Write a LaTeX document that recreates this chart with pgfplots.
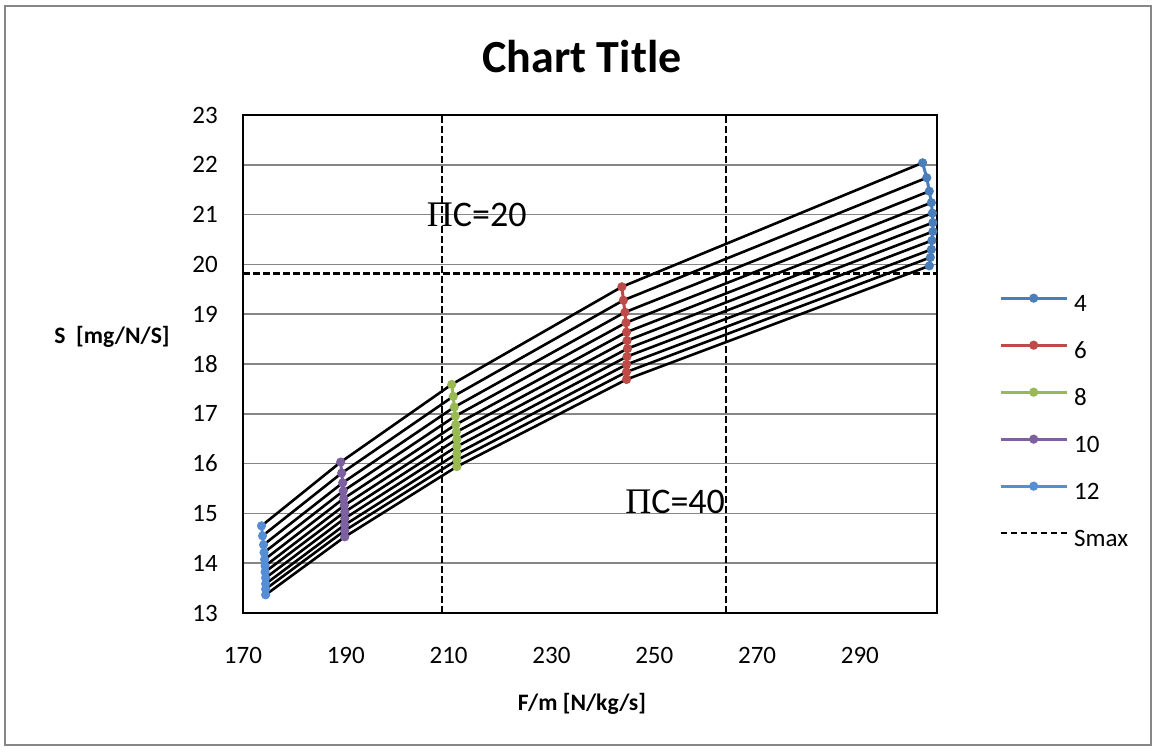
\documentclass[border=0pt]{standalone}
\usepackage{pgfplots}
\pgfplotsset{compat=1.18}
\usepackage{fontspec}
\setmainfont{Carlito}
\newfontfamily\serifgr{Liberation Serif}
\definecolor{c4}{RGB}{74,126,187}
\definecolor{c6}{RGB}{190,75,72}
\definecolor{c8}{RGB}{152,185,84}
\definecolor{c10}{RGB}{125,96,160}
\definecolor{c12}{RGB}{85,142,213}
\definecolor{gridgray}{RGB}{134,134,134}
\definecolor{framegray}{RGB}{135,135,135}
\begin{document}
\begin{tikzpicture}
\path[use as bounding box] (0,0) rectangle (578pt,375.5pt);
\draw[framegray, line width=1pt] (2.5pt,3pt) rectangle (575.5pt,372.5pt);
\node[font=\fontsize{23}{27}\selectfont\bfseries] at (291pt,347pt) {Chart Title};
\node[font=\fontsize{11.8}{14}\selectfont\bfseries] at (56pt,207pt) {S\ \ [mg/N/S]};
\node[font=\fontsize{11.8}{14}\selectfont\bfseries] at (291pt,23.5pt) {F/m [N/kg/s]};
\begin{axis}[
  at={(121.5pt,69pt)}, anchor=south west,
  scale only axis, width=347pt, height=249pt,
  xmin=170, xmax=305, ymin=13, ymax=23,
  xtick={170,190,...,290}, ytick={13,14,...,23},
  major tick length=0pt,
  ymajorgrids, grid style={gridgray, line width=0.8pt},
  axis line style={black, line width=1.2pt},
  /pgf/number format/assume math mode=true,
  tick label style={font=\fontsize{12.5}{15}\selectfont},
  xticklabel style={anchor=center, yshift=-21pt},
  yticklabel style={anchor=center, xshift=-19pt},
  legend style={at={(1.089,0.383)}, anchor=west, draw=none, fill=none,
    inner sep=0pt, font=\fontsize{12.5}{15}\selectfont, row sep=13pt, column sep=3pt,
    nodes={inner sep=0pt, text height=8.5pt, text depth=2pt}},
  legend cell align=left,
  legend image code/.code={\draw[mark repeat=2,mark phase=2,#1] plot coordinates {(0pt,3.3pt) (16.5pt,3.3pt) (33pt,3.3pt)};},
  colser/.style={line width=1.5pt, mark=*, mark size=1.5pt, mark options={solid}},
  blk/.style={black, line width=1.3pt, forget plot},
]
% series 4
\addplot[c4, colser] coordinates {(302.2,22.04) (303.0,21.74) (303.5,21.47) (303.9,21.24) (304.1,21.03) (304.2,20.84) (304.2,20.66) (304.0,20.48) (303.9,20.30) (303.7,20.14) (303.5,19.97)};
\addlegendentry{4}
% series 6
\addplot[c6, colser] coordinates {(243.7,19.55) (244.0,19.28) (244.3,19.04) (244.5,18.83) (244.6,18.64) (244.7,18.47) (244.8,18.31) (244.7,18.15) (244.6,17.99) (244.6,17.84) (244.6,17.69)};
\addlegendentry{6}
% series 8
\addplot[c8, colser] coordinates {(210.6,17.59) (210.9,17.35) (211.1,17.135) (211.3,16.955) (211.4,16.785) (211.5,16.635) (211.6,16.49) (211.6,16.345) (211.6,16.2) (211.6,16.07) (211.6,15.94)};
\addlegendentry{8}
% series 10
\addplot[c10, colser] coordinates {(189.0,16.03) (189.2,15.81) (189.4,15.615) (189.5,15.45) (189.6,15.30) (189.7,15.16) (189.8,15.03) (189.8,14.90) (189.8,14.77) (189.8,14.655) (189.8,14.53)};
\addlegendentry{10}
% series 12
\addplot[c12, colser] coordinates {(173.6,14.75) (173.8,14.55) (174.0,14.37) (174.1,14.215) (174.2,14.075) (174.3,13.945) (174.3,13.825) (174.4,13.705) (174.4,13.585) (174.4,13.48) (174.4,13.365)};
\addlegendentry{12}
% black connecting lines
\addplot[blk] coordinates {(173.6,14.75) (189.0,16.03) (210.6,17.59) (243.7,19.55) (302.2,22.04)};
\addplot[blk] coordinates {(173.8,14.55) (189.2,15.81) (210.9,17.35) (244.0,19.28) (303.0,21.74)};
\addplot[blk] coordinates {(174.0,14.37) (189.4,15.615) (211.1,17.135) (244.3,19.04) (303.5,21.47)};
\addplot[blk] coordinates {(174.1,14.215) (189.5,15.45) (211.3,16.955) (244.5,18.83) (303.9,21.24)};
\addplot[blk] coordinates {(174.2,14.075) (189.6,15.30) (211.4,16.785) (244.6,18.64) (304.1,21.03)};
\addplot[blk] coordinates {(174.3,13.945) (189.7,15.16) (211.5,16.635) (244.7,18.47) (304.2,20.84)};
\addplot[blk] coordinates {(174.3,13.825) (189.8,15.03) (211.6,16.49) (244.8,18.31) (304.2,20.66)};
\addplot[blk] coordinates {(174.4,13.705) (189.8,14.90) (211.6,16.345) (244.7,18.15) (304.0,20.48)};
\addplot[blk] coordinates {(174.4,13.585) (189.8,14.77) (211.6,16.2) (244.6,17.99) (303.9,20.30)};
\addplot[blk] coordinates {(174.4,13.48) (189.8,14.655) (211.6,16.07) (244.6,17.84) (303.7,20.14)};
\addplot[blk] coordinates {(174.4,13.365) (189.8,14.53) (211.6,15.94) (244.6,17.69) (303.5,19.97)};
% Smax
\addplot[black, line width=1.2pt, dash pattern=on 3.3pt off 1.7pt] coordinates {(170,19.82) (305,19.82)};
\addlegendentry{Smax}
% vertical dashed lines
\addplot[black, line width=0.9pt, dash pattern=on 3.5pt off 1.5pt, forget plot] coordinates {(208.7,13) (208.7,23)};
\addplot[black, line width=0.9pt, dash pattern=on 3.5pt off 1.5pt, forget plot] coordinates {(263.9,13) (263.9,23)};
\node[anchor=base west, font=\fontsize{18}{20}\selectfont, inner sep=0pt] at (axis cs:205.7,20.76) {{\serifgr Π}C=20};
\node[anchor=base west, font=\fontsize{18}{20}\selectfont, inner sep=0pt] at (axis cs:244.3,15.0) {{\serifgr Π}C=40};
\end{axis}
\end{tikzpicture}
\end{document}
